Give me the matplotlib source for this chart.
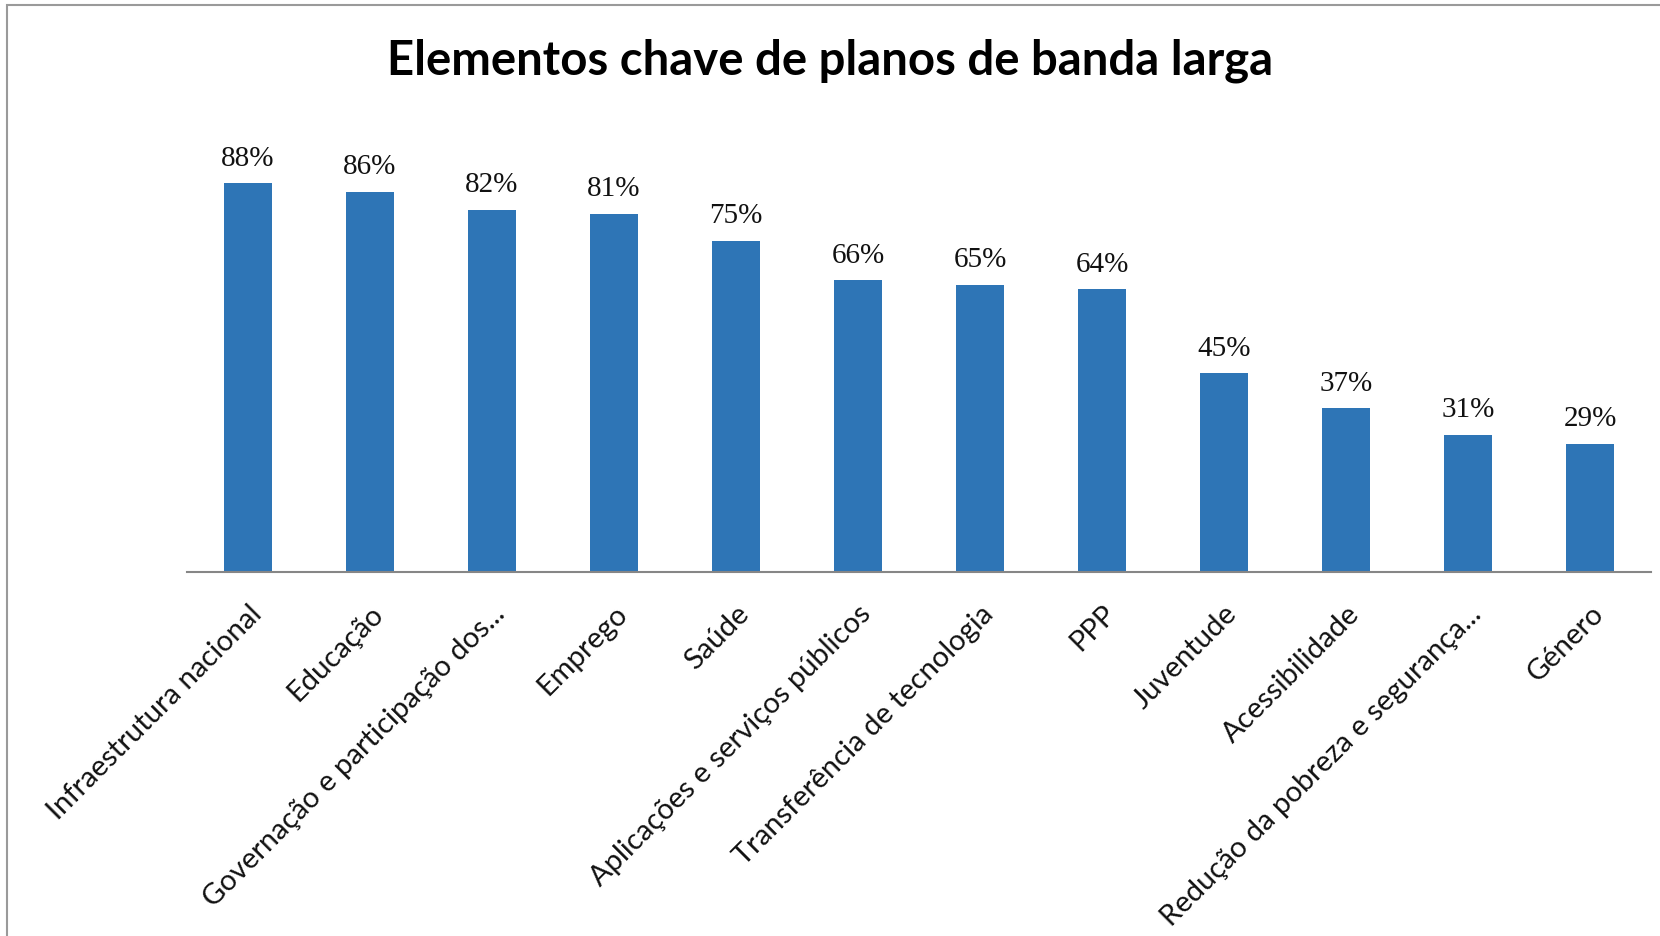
import matplotlib.pyplot as plt
from matplotlib.patches import Rectangle

categories = ["Infraestrutura nacional", "Educação", "Governação e participação dos...",
              "Emprego", "Saúde", "Aplicações e serviços públicos",
              "Transferência de tecnologia", "PPP", "Juventude", "Acessibilidade",
              "Redução da pobreza e segurança...", "Género"]
values = [0.88, 0.86, 0.82, 0.81, 0.75, 0.66, 0.65, 0.64, 0.45, 0.37, 0.31, 0.29]
labels = ["88%", "86%", "82%", "81%", "75%", "66%", "65%", "64%", "45%", "37%", "31%", "29%"]

fig = plt.figure(figsize=(16.6, 9.37), dpi=100)
ax = fig.add_axes([187 / 1660, 1 - 573 / 937, (1651 - 187) / 1660, 442 / 937])

x = range(len(categories))
bars = ax.bar(x, values, width=0.4, color="#2e75b6")
for b, lab in zip(bars, labels):
    ax.annotate(lab, (b.get_x() + b.get_width() / 2, b.get_height()),
                xytext=(0, 9), textcoords="offset points", ha="center", va="bottom",
                fontsize=21, family="Liberation Serif", color="#111111")

ax.set_xlim(-0.5, len(categories) - 0.5)
ax.set_ylim(0, 1)
ax.set_yticks([])
ax.set_xticks(list(x))
ax.set_xticklabels(categories, rotation=45, ha="right", va="top",
                   rotation_mode="anchor", fontsize=21, family="Lato", color="#111111")
ax.tick_params(axis="x", length=0, pad=20)
for s in ["top", "right", "left"]:
    ax.spines[s].set_visible(False)
ax.spines["bottom"].set_color("#868686")
ax.spines["bottom"].set_linewidth(1.5)

fig.text(0.5, 1 - 61 / 937, "Elementos chave de planos de banda larga", ha="center",
         va="center", fontsize=34, fontweight="bold", family="Lato", color="black")

fig.patches.append(Rectangle((7 / 1660, -0.1), 1.1, 1 - 6 / 937 + 0.1,
                             transform=fig.transFigure, fill=False,
                             edgecolor="#9a9a9a", linewidth=1.5))

fig.savefig("out.png", dpi=100)
